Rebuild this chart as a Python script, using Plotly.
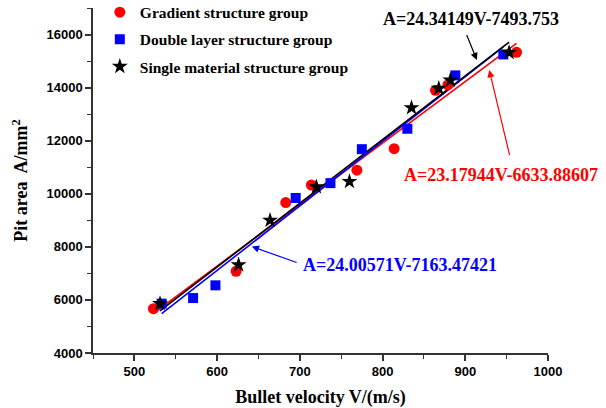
import plotly.graph_objects as go
import numpy as np

# ---- data ----
grad_v = [523, 623, 683, 714, 769, 814, 864, 879, 962]
grad_a = [5670, 7080, 9670, 10330, 10890, 11700, 13900, 14100, 15330]

dbl_v = [533, 571, 598, 695, 737, 775, 830, 888, 946]
dbl_a = [5860, 6070, 6550, 9840, 10400, 11680, 12450, 14460, 15250]

sgl_v = [531, 626, 664, 720, 760, 835, 868, 882, 953]
sgl_a = [5860, 7320, 9000, 10260, 10460, 13240, 13970, 14280, 15320]

series_names = ["Gradient structure group", "Double layer structure group",
                "Single material structure group"]
# fitted line coefficients (slope, intercept) per drawn line colour
fit_slope = [23.17944, 24.34149, 24.00571]
fit_icpt = [-6633.88607, -7493.753, -7163.47421]

eq_text = ["A=23.17944V-6633.88607", "A=24.00571V-7163.47421", "A=24.34149V-7493.753"]

colors = ["#ff0000", "#0000ff", "#000000"]
symbols = ["circle", "square", "star"]
sizes = [11, 10, 12]

SERIF = "Liberation Serif"
SANS = "Liberation Sans"

fig = go.Figure()
datasets = [(grad_v, grad_a), (dbl_v, dbl_a), (sgl_v, sgl_a)]

# fit lines
for i, (v, a) in enumerate(datasets):
    xs = np.array([min(v), max(v)], dtype=float)
    ys = fit_slope[i] * xs + fit_icpt[i]
    fig.add_trace(go.Scatter(x=xs, y=ys, mode="lines", showlegend=False,
                             line=dict(color=colors[i], width=1.6), hoverinfo="skip"))

# scatter points
for i, (v, a) in enumerate(datasets):
    fig.add_trace(go.Scatter(x=v, y=a, mode="markers", name=series_names[i],
                             legendgroup=str(i),
                             marker=dict(color=colors[i], symbol=symbols[i], size=sizes[i],
                                         line=dict(width=0))))

# equation labels
fig.add_annotation(x=907, y=16580, xref="x", yref="y", text=eq_text[2], showarrow=False,
                   font=dict(family=SERIF, size=18, color="#000000", weight="bold"))
fig.add_annotation(x=914, y=15040, ax=901, ay=16040, xref="x", yref="y", axref="x", ayref="y",
                   text="", showarrow=True, arrowhead=2, arrowsize=1.2, arrowwidth=1.2,
                   arrowcolor="#000000")

fig.add_annotation(x=943, y=10700, xref="x", yref="y", text=eq_text[0], showarrow=False,
                   font=dict(family=SERIF, size=18, color="#ff0000", weight="bold"))
fig.add_annotation(x=929, y=14660, ax=954, ay=11400, xref="x", yref="y", axref="x", ayref="y",
                   text="", showarrow=True, arrowhead=2, arrowsize=1.2, arrowwidth=1.2,
                   arrowcolor="#ff0000")

fig.add_annotation(x=821, y=7330, xref="x", yref="y", text=eq_text[1], showarrow=False,
                   font=dict(family=SERIF, size=18, color="#0000ff", weight="bold"))
fig.add_annotation(x=642, y=8010, ax=698, ay=7390, xref="x", yref="y", axref="x", ayref="y",
                   text="", showarrow=True, arrowhead=2, arrowsize=1.2, arrowwidth=1.2,
                   arrowcolor="#0000ff")

axis_common = dict(showgrid=False, zeroline=False, showline=True, linecolor="#333333",
                   linewidth=1.5, ticks="outside", ticklen=6, tickwidth=1.5,
                   tickcolor="#333333", mirror=False, tickformat="d", automargin=False,
                   tickfont=dict(family=SANS, size=13, color="#000000", weight="bold"))

fig.update_xaxes(range=[450, 1000], dtick=100, tick0=0,
                 minor=dict(dtick=50, ticks="outside", ticklen=4, tickwidth=1.2,
                            tickcolor="#333333"),
                 title=dict(text="Bullet velocity V/(m/s)", standoff=12,
                            font=dict(family=SERIF, size=18, color="#000000", weight="bold")),
                 **axis_common)
fig.update_yaxes(range=[4000, 17000], dtick=2000, tick0=0,
                 minor=dict(dtick=1000, ticks="outside", ticklen=4, tickwidth=1.2,
                            tickcolor="#333333"),
                 title=dict(text="Pit area  A/mm<sup>2</sup>", standoff=14,
                            font=dict(family=SERIF, size=18, color="#000000", weight="bold")),
                 **axis_common)

fig.update_layout(
    width=606, height=408,
    margin=dict(l=93, r=58, t=8, b=55, autoexpand=False),
    plot_bgcolor="white", paper_bgcolor="white",
    legend=dict(x=0.015, y=1.036, xanchor="left", yanchor="top",
                bgcolor="rgba(0,0,0,0)", tracegroupgap=4,
                font=dict(family=SERIF, size=15.5, color="#000000", weight="bold")),
)

fig.write_html("out.html")
